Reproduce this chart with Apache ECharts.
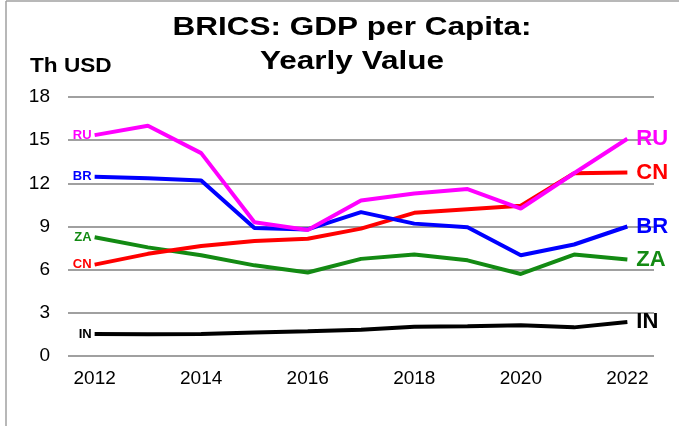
<!DOCTYPE html>
<html>
<head>
<meta charset="utf-8">
<script src="https://cdn.jsdelivr.net/npm/echarts@6/dist/echarts.min.js"></script>
<style>
  html, body { margin: 0; padding: 0; background: #fff; }
  #chart { width: 679px; height: 426px; }
</style>
</head>
<body>
<div id="chart"></div>
<script>
// years on the x axis
var years = ['2012', '2013', '2014', '2015', '2016', '2017', '2018', '2019', '2020', '2021', '2022'];
// GDP per capita, thousand USD
var RU = [15.35, 16.0, 14.1, 9.3, 8.75, 10.8, 11.3, 11.6, 10.25, 12.7, 15.1];
var BR = [12.45, 12.35, 12.2, 8.9, 8.8, 10.0, 9.2, 8.95, 7.0, 7.75, 9.0];
var CN = [6.35, 7.1, 7.65, 8.0, 8.15, 8.85, 9.95, 10.2, 10.45, 12.7, 12.75];
var ZA = [8.25, 7.55, 7.0, 6.3, 5.8, 6.75, 7.05, 6.65, 5.7, 7.05, 6.7];
var IN = [1.53, 1.52, 1.53, 1.63, 1.72, 1.82, 2.03, 2.06, 2.14, 1.99, 2.37];
var yTicks = [0, 3, 6, 9, 12, 15, 18];

var chart = echarts.init(document.getElementById('chart'));

function makeSeries (name, values, color) {
  var data = values.map(function (v, i) {
    if (i === 0) {
      // small tag in front of the first point
      return {
        value: v,
        label: {
          show: true,
          position: 'left',
          distance: 3,
          formatter: name,
          color: color,
          fontSize: 13,
          fontWeight: 'bold',
          fontFamily: 'Liberation Sans'
        }
      }
    }
    return v
  })
  return {
    name: name,
    type: 'line',
    data: data,
    symbol: 'circle',
    symbolSize: 0,
    showSymbol: true,
    silent: true,
    lineStyle: { color: color, width: 4 },
    itemStyle: { color: color },
    endLabel: {
      show: true,
      formatter: name,
      distance: 9,
      color: color,
      fontSize: 22,
      fontWeight: 'bold',
      fontFamily: 'Liberation Sans'
    }
  }
}

var option = {
  animation: false,
  backgroundColor: '#fff',
  graphic: [
    { type: 'line', shape: { x1: 6, y1: 1, x2: 679, y2: 1 }, style: { stroke: '#a0a0a0', lineWidth: 1.5 } },
    { type: 'line', shape: { x1: 6, y1: 1, x2: 6, y2: 426 }, style: { stroke: '#a0a0a0', lineWidth: 1.5 } },
    {
      type: 'text', x: 352, y: 45, scaleX: 1.26,
      style: {
        text: 'BRICS: GDP per Capita:\nYearly Value',
        fill: '#000',
        font: 'bold 25px "Liberation Sans"',
        lineHeight: 34,
        align: 'center',
        verticalAlign: 'middle'
      }
    },
    {
      type: 'text', x: 30, y: 66, scaleX: 1.13,
      style: { text: 'Th USD', fill: '#000', font: 'bold 20px "Liberation Sans"', verticalAlign: 'middle' }
    }
  ],
  grid: { left: 68, right: 25, top: 97, bottom: 70 },
  xAxis: {
    type: 'category',
    data: years,
    boundaryGap: true,
    axisLine: { show: false },
    axisTick: { show: false },
    axisLabel: {
      interval: 1,
      margin: 13,
      fontSize: 19,
      color: '#000',
      fontFamily: 'Liberation Sans'
    }
  },
  yAxis: {
    type: 'value',
    min: yTicks[0],
    max: yTicks[yTicks.length - 1],
    interval: 3,
    axisLine: { show: false },
    axisTick: { show: false },
    axisLabel: {
      margin: 18,
      fontSize: 19,
      color: '#000',
      fontFamily: 'Liberation Sans'
    },
    splitLine: { lineStyle: { color: '#a0a0a0', width: 2 } }
  },
  series: [
    makeSeries('IN', IN, '#000000'),
    makeSeries('ZA', ZA, '#138a13'),
    makeSeries('CN', CN, '#ff0000'),
    makeSeries('BR', BR, '#0000ff'),
    makeSeries('RU', RU, '#ff00ff')
  ]
}

chart.setOption(option);
</script>
</body>
</html>
